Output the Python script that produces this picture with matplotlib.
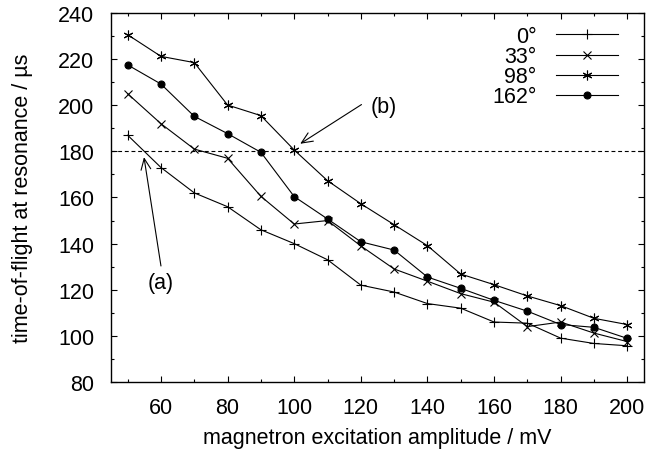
import matplotlib
matplotlib.use("Agg")
import matplotlib.pyplot as plt
from matplotlib.ticker import MultipleLocator

plt.rcParams['font.family'] = ['Liberation Sans', 'DejaVu Sans']

amplitude = [50, 60, 70, 80, 90, 100, 110, 120, 130, 140, 150, 160, 170, 180, 190, 200]
tof_0 = [187, 173, 162, 156, 146, 140, 133, 122, 119, 114, 112, 106, 105.5, 99, 96.7, 95.7]
tof_33 = [205, 192, 181, 177, 160.5, 148.5, 150, 139, 129, 123.7, 118.3, 114.6, 104, 106, 101.2, 97.5]
tof_98 = [230.6, 221.2, 218.5, 200.1, 195.5, 180.6, 167.3, 157.3, 148.2, 139.1, 126.8, 122.2, 117.3, 113.1, 107.6, 104.9]
tof_162 = [217.5, 209.2, 195.2, 187.7, 179.6, 160.4, 150.7, 140.8, 137.2, 125.5, 120.6, 115.4, 110.7, 104.9, 103.7, 98.9]
labels = ['0°', '33°', '98°', '162°']
reference_level = 180

FS = 15.5

fig = plt.figure(figsize=(6.51, 4.52), dpi=100)
ax = fig.add_axes([0.1705, 0.1527, 0.8187, 0.8163])

asterisk = (6, 2, 0)
series = [tof_0, tof_33, tof_98, tof_162]
markers = ['+', 'x', asterisk, 'o']
msizes = [7, 6, 7, 5]
for vals, lab, m, ms in zip(series, labels, markers, msizes):
    ax.plot(amplitude, vals, color='black', lw=0.8, marker=m, ms=ms,
            mew=0.8, mfc='black', label=lab)

ax.axhline(reference_level, color='black', lw=0.8, dashes=(3.5, 2.5))

ax.set_xlim(45, 205)
ax.set_ylim(80, 240)
ax.xaxis.set_major_locator(MultipleLocator(20))
ax.xaxis.set_minor_locator(MultipleLocator(10))
ax.yaxis.set_major_locator(MultipleLocator(20))
ax.yaxis.set_minor_locator(MultipleLocator(10))
ax.tick_params(which='both', direction='in', top=True, right=True, labelsize=FS, width=0.8)
ax.tick_params(which='major', length=4.5)
ax.tick_params(axis='x', which='major', pad=11)
ax.tick_params(axis='y', which='major', pad=12)
ax.tick_params(which='minor', length=2.5)
for s in ax.spines.values():
    s.set_linewidth(1.0)

ax.set_xlabel('magnetron excitation amplitude / mV', fontsize=FS, labelpad=6)
ax.set_ylabel('time-of-flight at resonance / µs', fontsize=FS, labelpad=18)

arrow = dict(arrowstyle='->, head_length=0.5, head_width=0.22', color='black', lw=0.8,
             mutation_scale=16, shrinkA=0, shrinkB=0)
ax.annotate('', xy=(101.8, 183.3), xytext=(120.2, 200.3), arrowprops=arrow)
ax.text(126.9, 199.5, '(b)', fontsize=FS, ha='center', va='center')

ax.annotate('', xy=(54.9, 177.5), xytext=(60.0, 130.3), arrowprops=arrow)
ax.text(60.0, 123.3, '(a)', fontsize=FS, ha='center', va='center')

leg = ax.legend(loc='upper right', bbox_to_anchor=(0.951, 0.965), frameon=False,
                markerfirst=False, fontsize=FS, handlelength=2.85, handletextpad=0.93,
                labelspacing=-0.04, borderaxespad=0, borderpad=0)

fig.savefig('out.png', dpi=100)
